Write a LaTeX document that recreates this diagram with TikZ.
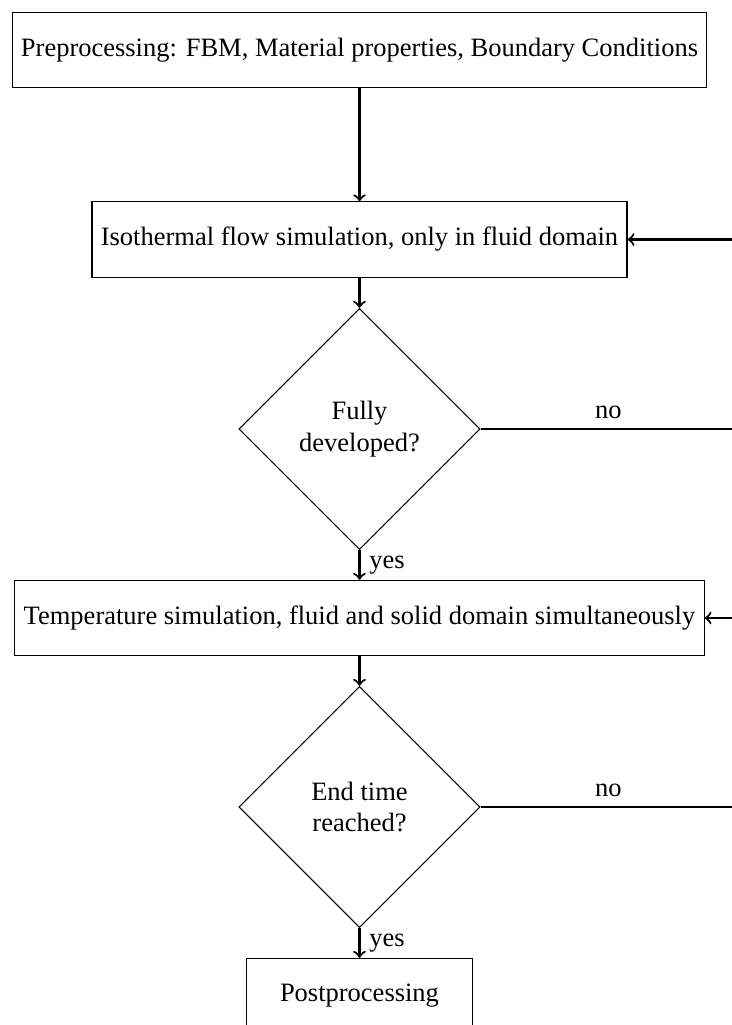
\documentclass[tikz,border=0pt]{standalone}
\usepackage{fontspec}
\setmainfont{Liberation Serif}
\tikzset{
  stepbox/.style={draw, minimum width=3cm, minimum height=1cm, align=center},
  choice/.style={draw, diamond, aspect=1, minimum width=3.2cm, minimum height=3.2cm, align=center, inner sep=0pt},
  flow/.style={->, thick}
}
\usetikzlibrary{shapes.geometric}
\begin{document}
\begin{tikzpicture}[x=0.3774pt,y=0.3774pt,yscale=-1,xscale=1]
\clip (0,0) rectangle (732,1025);
\node [stepbox] (pre) at (359.5,50) {Preprocessing: FBM, Material properties, Boundary Conditions};
\node [stepbox] (iso) at (359.5,239.5) {Isothermal flow simulation, only in fluid domain};
\node [choice] (dev) at (359.5,429) {Fully\\developed?};
\node [stepbox] (temp) at (359.5,618) {Temperature simulation, fluid and solid domain simultaneously};
\node [choice] (endt) at (359.5,807) {End time\\reached?};
\node [stepbox] (post) at (359.5,996) {Postprocessing};
\coordinate (backA) at (736,429);
\coordinate (backB) at (736,807);
\draw [flow] (pre) -- (iso);
\draw [flow] (iso) -- (dev);
\draw [flow] (dev) -- node [right] {yes} (temp);
\draw [flow] (temp) -- (endt);
\draw [flow] (endt) -- node [right] {yes} (post);
\draw [flow] (dev.east) -- node [above] {no} (backA) |- (iso.east);
\draw [flow] (endt.east) -- node [above] {no} (backB) |- (temp.east);
\end{tikzpicture}
\end{document}
